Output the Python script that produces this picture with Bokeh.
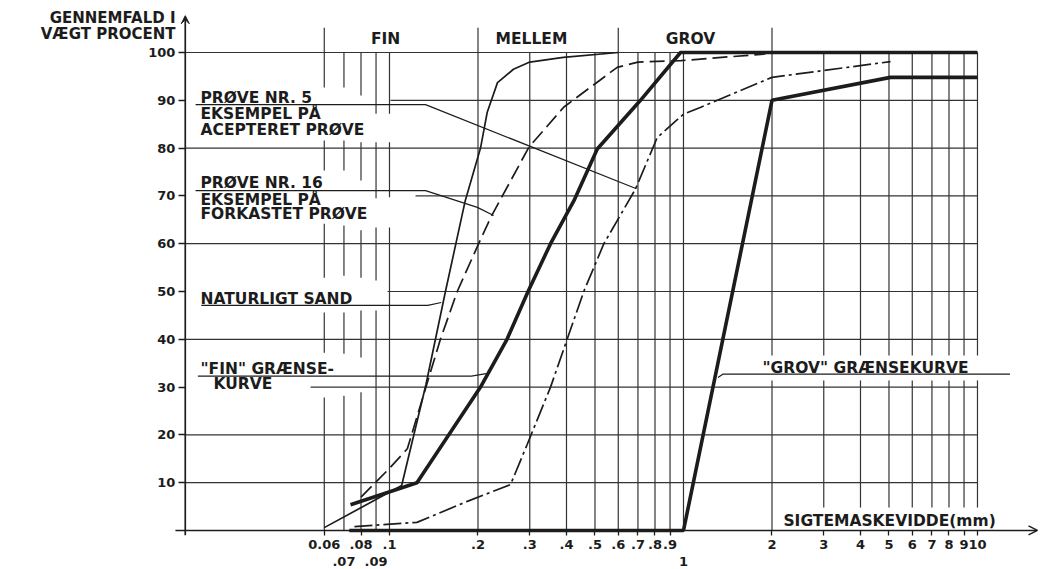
from bokeh.plotting import figure
from bokeh.models import FixedTicker, LogAxis, Arrow, OpenHead, VeeHead
from bokeh.core.properties import value
from bokeh.embed import file_html
from bokeh.resources import INLINE

# ---------------- data ----------------
# sieve opening (mm) and passing percentage for each curve
naturligt_x = [0.06, 0.11, 0.133, 0.155, 0.181, 0.204, 0.215, 0.233, 0.264, 0.30, 0.39, 0.60]
naturligt_y = [0.6, 9.4, 30.5, 50.0, 69.0, 80.0, 87.5, 93.7, 96.5, 98.0, 99.0, 100.0]

proeve16_x = [0.08, 0.10, 0.115, 0.149, 0.170, 0.201, 0.221, 0.298, 0.392, 0.595, 0.70, 0.98, 1.9]
proeve16_y = [7.0, 13.0, 17.1, 40.0, 50.0, 60.0, 65.5, 80.2, 88.6, 96.9, 98.0, 98.3, 99.7]

proeve5_x = [0.076, 0.124, 0.184, 0.258, 0.294, 0.353, 0.402, 0.458, 0.536, 0.686, 0.814, 1.0, 1.14, 2.0, 5.06]
proeve5_y = [0.8, 1.7, 6.1, 9.6, 18.0, 30.0, 40.0, 50.0, 60.0, 71.4, 82.2, 87.1, 88.5, 94.8, 98.1]

fin_graense_x = [0.0737, 0.124, 0.204, 0.251, 0.296, 0.353, 0.424, 0.509, 0.714, 0.977, 10.0]
fin_graense_y = [5.4, 10.0, 30.0, 40.0, 50.0, 60.0, 69.0, 79.8, 90.0, 100.0, 100.0]

grov_graense_x = [0.073, 1.0, 2.0, 5.06, 10.0]
grov_graense_y = [0.0, 0.0, 90.0, 94.8, 94.8]

# ticks
y_ticks = [10, 20, 30, 40, 50, 60, 70, 80, 90, 100]
x_ticks_row1 = [0.06, 0.08, 0.1, 0.2, 0.3, 0.4, 0.5, 0.6, 0.7, 0.8, 0.9, 2, 3, 4, 5, 6, 7, 8, 9, 10]
x_labels_row1 = ["0.06", ".08", ".1", ".2", ".3", ".4", ".5", ".6", ".7", ".8", ".9",
                 "2", "3", "4", "5", "6", "7", "8", "9", "10"]
x_ticks_row2 = [0.07, 0.09, 1]
x_labels_row2 = [".07", ".09", "1"]

# grain-size zones
zone_names = ["FIN", "MELLEM", "GROV"]
zone_label_x = [0.097, 0.304, 1.056]

# ---------------- figure ----------------
XL, XR = 0.004752, 16.51       # whole canvas is the frame
YB, YT = -8.16, 110.88
AX_X = 0.0202                  # where the y axis stands
INK = "#1c1c1c"
GRID = "#333333"
FONT = "DejaVu Sans"

p = figure(width=1041, height=569, x_axis_type="log",
           x_range=(XL, XR), y_range=(YB, YT),
           output_backend="svg", toolbar_location=None,
           min_border_left=0, min_border_right=0,
           min_border_top=0, min_border_bottom=0)
p.grid.visible = False
p.outline_line_color = None
p.background_fill_color = "white"
p.border_fill_color = "white"

# y axis (ticks and labels; the line is drawn as an arrow below)
ya = p.yaxis[0]
ya.fixed_location = AX_X
ya.ticker = FixedTicker(ticks=y_ticks)
ya.axis_line_color = None
ya.major_tick_out = 7
ya.major_tick_in = 0
ya.major_tick_line_width = 1.3
ya.major_tick_line_color = INK
ya.minor_tick_line_color = None
ya.major_label_standoff = 3
ya.major_label_text_font = FONT
ya.major_label_text_font_style = "bold"
ya.major_label_text_font_size = "13px"
ya.major_label_text_color = INK

# x axis, first label row
xa = p.xaxis[0]
xa.fixed_location = 0
xa.ticker = FixedTicker(ticks=x_ticks_row1)
xa.major_label_overrides = dict(zip(x_ticks_row1, x_labels_row1))
xa.axis_line_color = None
xa.major_tick_out = 5
xa.major_tick_in = 0
xa.major_tick_line_width = 1.3
xa.major_tick_line_color = INK
xa.minor_tick_line_color = None
xa.major_label_standoff = 5
xa.major_label_text_font = FONT
xa.major_label_text_font_style = "bold"
xa.major_label_text_font_size = "13px"
xa.major_label_text_color = INK

# x axis, second label row
xa2 = LogAxis(fixed_location=0, ticker=FixedTicker(ticks=x_ticks_row2),
              major_label_overrides=dict(zip(x_ticks_row2, x_labels_row2)),
              axis_line_color=None, major_tick_line_color=None,
              minor_tick_line_color=None, major_tick_out=0, major_tick_in=0,
              major_label_standoff=27,
              major_label_text_font=FONT, major_label_text_font_style="bold",
              major_label_text_font_size="13px", major_label_text_color=INK)
p.add_layout(xa2, "below")

# ---------------- grid (drawn by hand, with the gaps of the drawing) ----------------
v_segments = {
    0.06: [(0, 27.8), (37.2, 45.6), (52.9, 64.2), (75.3, 81.6), (92.7, 105.2)],
    0.07: [(0, 28.2), (37.0, 45.6), (53.3, 63.8), (75.3, 81.6), (92.7, 100)],
    0.08: [(0, 28.9), (36.2, 46.0), (52.9, 62.8), (73.2, 81.2), (91.0, 100)],
    0.09: [(0, 46.0), (52.3, 63.4), (69.5, 81.2), (87.2, 100)],
    0.1: [(0, 63.4), (69.7, 81.2), (87.2, 100)],
    0.2: [(0, 105.2)], 0.3: [(0, 100)], 0.4: [(0, 100)], 0.5: [(0, 100)],
    0.6: [(0, 105.2)], 0.7: [(0, 100)], 0.8: [(0, 100)], 0.9: [(0, 100)],
    1: [(0, 100)],
    2: [(0, 31.4), (36.6, 105.2)],
}
for v in [3, 4, 5, 6, 7, 8, 9, 10]:
    v_segments[v] = [(4.8, 31.4), (36.6, 100)]

vx, vy0, vy1 = [], [], []
for xv, segs in v_segments.items():
    for a, b in segs:
        vx.append(xv); vy0.append(a); vy1.append(b)
p.segment(x0=vx, y0=vy0, x1=vx, y1=vy1, line_color=GRID, line_width=1.2)

h_start = {100: AX_X, 90: 0.1008, 80: AX_X, 70: 0.1226, 60: AX_X,
           50: 0.0985, 40: AX_X, 30: 0.0539, 20: AX_X, 10: AX_X}
hy = list(h_start.keys())
p.segment(x0=[h_start[k] for k in hy], y0=hy, x1=[10] * len(hy), y1=hy,
          line_color=GRID, line_width=1.2)

# axis lines with arrow heads
p.add_layout(Arrow(end=VeeHead(size=8, line_color=INK, fill_color=INK),
                   x_start=AX_X, y_start=-1.0, x_end=AX_X, y_end=107.7,
                   line_color=INK, line_width=1.7))
p.add_layout(Arrow(end=OpenHead(size=9, line_color=INK, line_width=1.4),
                   x_start=0.0187, y_start=0, x_end=16.0, y_end=0,
                   line_color=INK, line_width=1.7))

# ---------------- curves ----------------
p.line(naturligt_x, naturligt_y, line_color=INK, line_width=1.7)
p.line(proeve16_x, proeve16_y, line_color=INK, line_width=1.7, line_dash="15 6")
p.line(proeve5_x, proeve5_y, line_color=INK, line_width=1.7, line_dash="18 4 3 4")
p.line(fin_graense_x, fin_graense_y, line_color=INK, line_width=3.6)
p.line(grov_graense_x, grov_graense_y, line_color=INK, line_width=3.6)

# ---------------- leader lines ----------------
leaders_x = [
    [0.0219, 0.1326, 0.692],
    [0.0219, 0.1326, 0.199, 0.226],
    [0.0229, 0.135, 0.150],
    [0.0223, 0.19, 0.213],
    [1.31, 1.36, 12.9],
]
leaders_y = [
    [89.1, 89.1, 71.5],
    [71.1, 71.1, 67.6, 65.9],
    [47.1, 47.1, 47.7],
    [32.3, 32.3, 32.8],
    [32.0, 32.7, 32.7],
]
p.multi_line(leaders_x, leaders_y, line_color=INK, line_width=1.2)

# ---------------- annotation texts ----------------
note_text = ["PRØVE NR. 5", "EKSEMPEL PÅ", "ACEPTERET PRØVE",
             "PRØVE NR. 16", "EKSEMPEL PÅ", "FORKASTET PRØVE",
             "NATURLIGT SAND", "\"FIN\" GRÆNSE-", "KURVE",
             "\"GROV\" GRÆNSEKURVE", "SIGTEMASKEVIDDE(mm)"]
note_x = [0.02276, 0.02276, 0.02276, 0.02276, 0.02276, 0.02276,
          0.02276, 0.02276, 0.0252, 1.857, 2.188]
note_y = [90.4, 87.2, 83.8, 72.8, 69.2, 66.2, 48.5, 33.8, 30.75, 34.1, 1.9]
p.text(x=note_x, y=note_y, text=note_text, text_font=value(FONT),
       text_font_style="bold", text_font_size="15.5px", text_color=INK,
       text_align="left", text_baseline="middle")

p.text(x=zone_label_x, y=[102.9] * 3, text=zone_names, text_font=value(FONT),
       text_font_style="bold", text_font_size="15.5px", text_color=INK,
       text_align="center", text_baseline="middle")

# y axis title
p.text(x=[0.01871, 0.01871], y=[107.3, 103.9],
       text=["GENNEMFALD I", "VÆGT PROCENT"], text_font=value(FONT),
       text_font_style="bold", text_font_size="15px", text_color=INK,
       text_align="right", text_baseline="middle")

open("out.html", "w").write(file_html(p, INLINE))
